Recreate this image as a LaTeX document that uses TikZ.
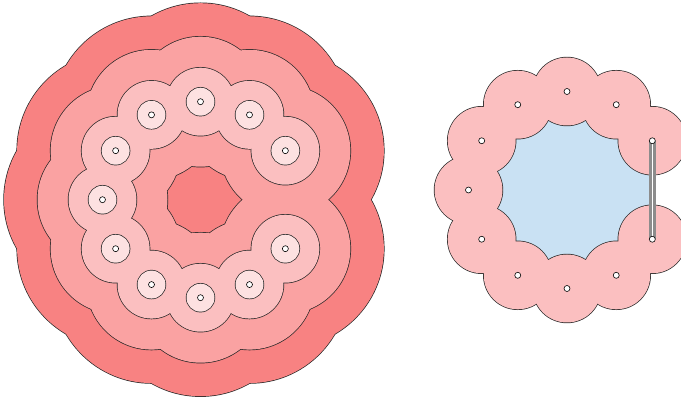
\documentclass[tikz,border=0pt]{standalone}
\usetikzlibrary{positioning}
\definecolor{ringDark}{RGB}{248,130,130}
\definecolor{ringMid}{RGB}{250,162,162}
\definecolor{ringLight}{RGB}{251,191,192}
\definecolor{ringPale}{RGB}{253,225,225}
\definecolor{holeBlue}{RGB}{201,225,243}

\begin{document}
\begin{tikzpicture}[x=1pt, y=1pt,
    site/.style={circle, draw, fill=white, line width=0.6pt, inner sep=0pt, minimum size=6pt},
    rim/.style={draw=black!85, line width=1.4pt},
    gapline/.style={draw=black!45, line width=2.8pt, double=white, double distance=1.4pt},
  ]
    \useasboundingbox (0,0) rectangle (681,402);

    % left: eleven sites and their offset layers
    \foreach \k in {1,...,11}
      \coordinate (a\k) at ([shift={(200.5,202.3)}]30*\k:98);
    \foreach \r/\c in {98.5/ringDark, 65/ringMid, 34/ringLight, 14/ringPale} {
      \foreach \k in {1,...,11} \draw[rim] (a\k) circle (\r pt);
      \foreach \k in {1,...,11} \fill[\c] (a\k) circle (\r pt);
    }
    \foreach \k in {1,...,11}
      \node[site] (p\k) at (a\k) {};

    % right: one layer, hole closed by the gap edge
    \foreach \k in {1,...,11}
      \coordinate (b\k) at ([shift={(567,212)}]30*\k:98.5);
    \fill[holeBlue] (b1) \foreach \k in {2,...,11} { -- (b\k) } -- cycle;
    \foreach \k in {1,...,11} \draw[rim] (b\k) circle (34pt);
    \foreach \k in {1,...,11} \fill[ringLight] (b\k) circle (34pt);
    \draw[gapline] (b1) -- (b11);
    \foreach \k in {1,...,11}
      \node[site] (q\k) at (b\k) {};
  \end{tikzpicture}
\end{document}
